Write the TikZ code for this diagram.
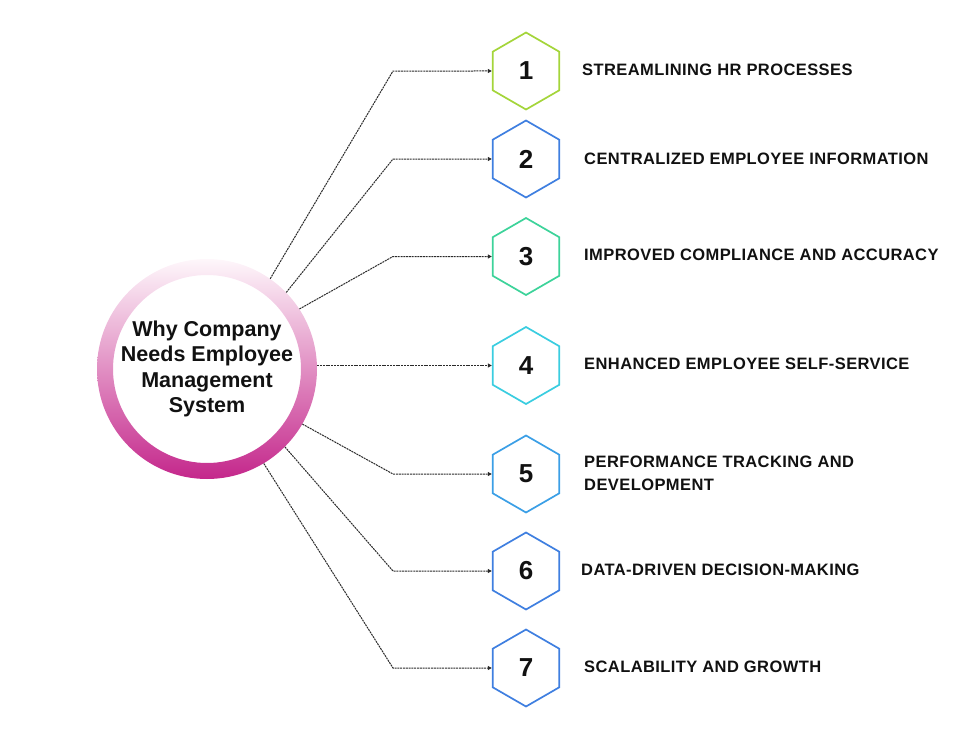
\documentclass[tikz,border=0pt]{standalone}
\usepackage{fontspec}
\setmainfont{Liberation Sans}
\usetikzlibrary{shapes.geometric,arrows.meta}
\definecolor{hexA}{HTML}{A4D53A}
\definecolor{hexB}{HTML}{3F7FE0}
\definecolor{hexC}{HTML}{3DD39A}
\definecolor{hexD}{HTML}{3ACDE0}
\definecolor{hexE}{HTML}{3B9FE6}
\definecolor{ringtop}{HTML}{FEF7FB}
\definecolor{ringmid}{HTML}{EFC6DE}
\definecolor{ringbot}{HTML}{C4278B}
\definecolor{linkgray}{HTML}{2A2A2A}
\definecolor{ink}{HTML}{111111}
\tikzset{
  hexbox/.style={regular polygon, regular polygon sides=6, shape border rotate=30,
    minimum size=77pt, inner sep=0pt, line width=1.7pt, fill=white,
    font=\bfseries\fontsize{26}{26}\selectfont, text=ink},
  itemlabel/.style={anchor=west, align=left, inner sep=0pt, text=ink,
    font=\bfseries\fontsize{16.5}{23}\selectfont\addfontfeatures{LetterSpace=2.5}},
  link/.style={draw=linkgray, line width=1pt, dash pattern=on 2pt off 0.8pt,
    -{Triangle[length=4pt,width=4pt]}},
}
\begin{document}
\begin{tikzpicture}[x=1pt,y=-1pt]
\useasboundingbox (0,0) rectangle (975,731);
% central ring
\shade[top color=ringtop, middle color=ringmid, bottom color=ringbot, even odd rule]
  (207,369) circle (110) (207,369) circle (94);
\node[circle, minimum size=220pt, inner sep=0pt, align=center, text=ink,
  font=\bfseries\fontsize{21.5}{25.5}\selectfont] (c) at (207,369)
  {Why Company\\Needs Employee\\Management\\System};
% hexagons
\node[hexbox, draw=hexA] (h1) at (526,71) {1};
\node[hexbox, draw=hexB] (h2) at (526,159) {2};
\node[hexbox, draw=hexC] (h3) at (526,256.5) {3};
\node[hexbox, draw=hexD] (h4) at (526,365.5) {4};
\node[hexbox, draw=hexE] (h5) at (526,474) {5};
\node[hexbox, draw=hexB] (h6) at (526,571) {6};
\node[hexbox, draw=hexB] (h7) at (526,668) {7};
% labels
\node[itemlabel] (l1) at (582,70) {STREAMLINING HR PROCESSES};
\node[itemlabel] (l2) at (584,159) {CENTRALIZED EMPLOYEE INFORMATION};
\node[itemlabel] (l3) at (584,255) {IMPROVED COMPLIANCE AND ACCURACY};
\node[itemlabel] (l4) at (584,364) {ENHANCED EMPLOYEE SELF-SERVICE};
\node[itemlabel] (l5) at (584,473) {PERFORMANCE TRACKING AND\\DEVELOPMENT};
\node[itemlabel] (l6) at (581,570) {DATA-DRIVEN DECISION-MAKING};
\node[itemlabel] (l7) at (584,667) {SCALABILITY AND GROWTH};
% elbows
\coordinate (e1) at (393,71);
\coordinate (e2) at (393,159);
\coordinate (e3) at (393,256.5);
\coordinate (e5) at (393,474);
\coordinate (e6) at (393,571);
\coordinate (e7) at (393,668);
% connectors
\draw[link] (c.55) -- (e1) -- (h1.west);
\draw[link] (c.44) -- (e2) -- (h2.west);
\draw[link] (c.33) -- (e3) -- (h3.west);
\draw[link] (c.east |- h4.west) -- (h4.west);
\draw[link] (c.-30) -- (e5) -- (h5.west);
\draw[link] (c.-45) -- (e6) -- (h6.west);
\draw[link] (c.-59) -- (e7) -- (h7.west);
\end{tikzpicture}
\end{document}
